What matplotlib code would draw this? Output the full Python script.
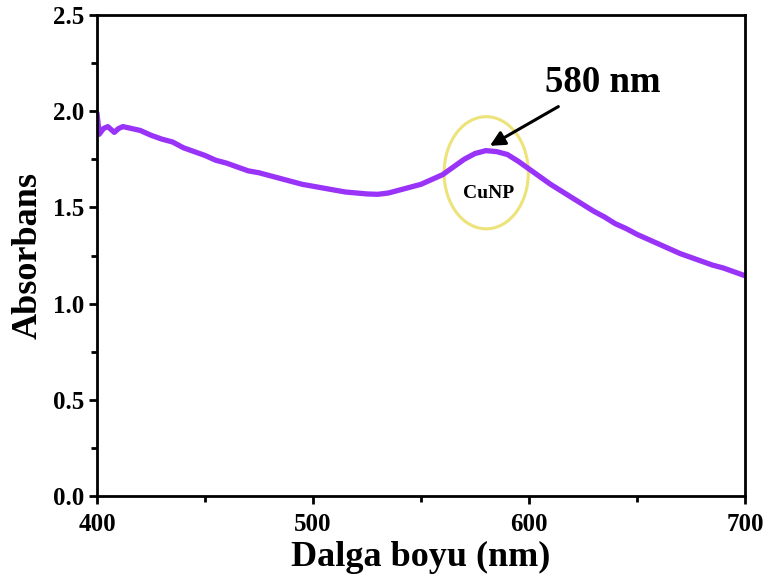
import matplotlib
matplotlib.use("Agg")
import matplotlib.pyplot as plt
from matplotlib.patches import Ellipse
from matplotlib.ticker import MultipleLocator

plt.rcParams['font.family'] = ['Liberation Serif', 'DejaVu Serif']
plt.rcParams['font.weight'] = 'bold'

# --- UV-Vis spectrum ---
wavelength = [400, 401, 403, 405, 408, 410, 412, 416, 420, 425, 430, 435, 440, 445,
              450, 455, 460, 465, 470, 475, 480, 485, 490, 495, 500, 505, 510, 515,
              520, 525, 530, 535, 540, 545, 550, 555, 560, 565, 570, 575, 580, 585,
              590, 595, 600, 605, 610, 615, 620, 625, 630, 635, 640, 645, 650, 655,
              660, 665, 670, 675, 680, 685, 690, 695, 700]
absorbance = [1.99, 1.88, 1.91, 1.92, 1.89, 1.91, 1.92, 1.91, 1.90, 1.875, 1.855, 1.84,
              1.81, 1.79, 1.77, 1.745, 1.73, 1.71, 1.69, 1.68, 1.665, 1.65, 1.635, 1.62,
              1.61, 1.60, 1.59, 1.58, 1.575, 1.57, 1.568, 1.575, 1.59, 1.605, 1.62, 1.645,
              1.67, 1.71, 1.75, 1.78, 1.795, 1.79, 1.775, 1.74, 1.70, 1.66, 1.62, 1.585,
              1.55, 1.515, 1.48, 1.45, 1.415, 1.39, 1.36, 1.335, 1.31, 1.285, 1.26, 1.24,
              1.22, 1.20, 1.185, 1.165, 1.145]

x_ticks = [400, 500, 600, 700]
y_ticks = [0.0, 0.5, 1.0, 1.5, 2.0, 2.5]
peak_label = '580 nm'

fig = plt.figure(figsize=(7.68, 5.84), dpi=100)
ax = fig.add_axes([0.1263, 0.1507, 0.8437, 0.8236])

ax.plot(wavelength, absorbance, color='#9933f7', lw=3.8, solid_capstyle='round')

ax.set_xlim(400, 700)
ax.set_ylim(0, 2.5)
ax.set_xticks(x_ticks)
ax.set_yticks(y_ticks)
ax.set_yticklabels([f'{v:.1f}' for v in y_ticks])
ax.xaxis.set_minor_locator(MultipleLocator(50))
ax.yaxis.set_minor_locator(MultipleLocator(0.25))
ax.tick_params(which='major', direction='out', length=6, width=2, labelsize=18)
ax.tick_params(axis='x', pad=6)
ax.tick_params(which='minor', direction='out', length=4, width=2)
ax.tick_params(top=False, right=False, which='both')
for s in ax.spines.values():
    s.set_linewidth(2)

ax.set_xlabel('Dalga boyu (nm)', fontsize=26, fontweight='bold', labelpad=4)
ax.set_ylabel('Absorbans', fontsize=26, fontweight='bold', labelpad=6)

# CuNP highlight
ax.add_patch(Ellipse((580.2, 1.68), 39, 0.583, fill=False, ec='#ece37a', lw=2.2))
ax.text(581.5, 1.573, 'CuNP', ha='center', va='center', fontsize=14, fontweight='bold')

ax.annotate('', xy=(581.9, 1.82), xytext=(613.6, 2.024),
            arrowprops=dict(arrowstyle='-|>', color='black', lw=2.2,
                            mutation_scale=22, shrinkA=0, shrinkB=0))
ax.text(607.5, 2.10, peak_label, fontsize=26.5, fontweight='bold',
        ha='left', va='baseline')

fig.savefig('out.png', dpi=100)
